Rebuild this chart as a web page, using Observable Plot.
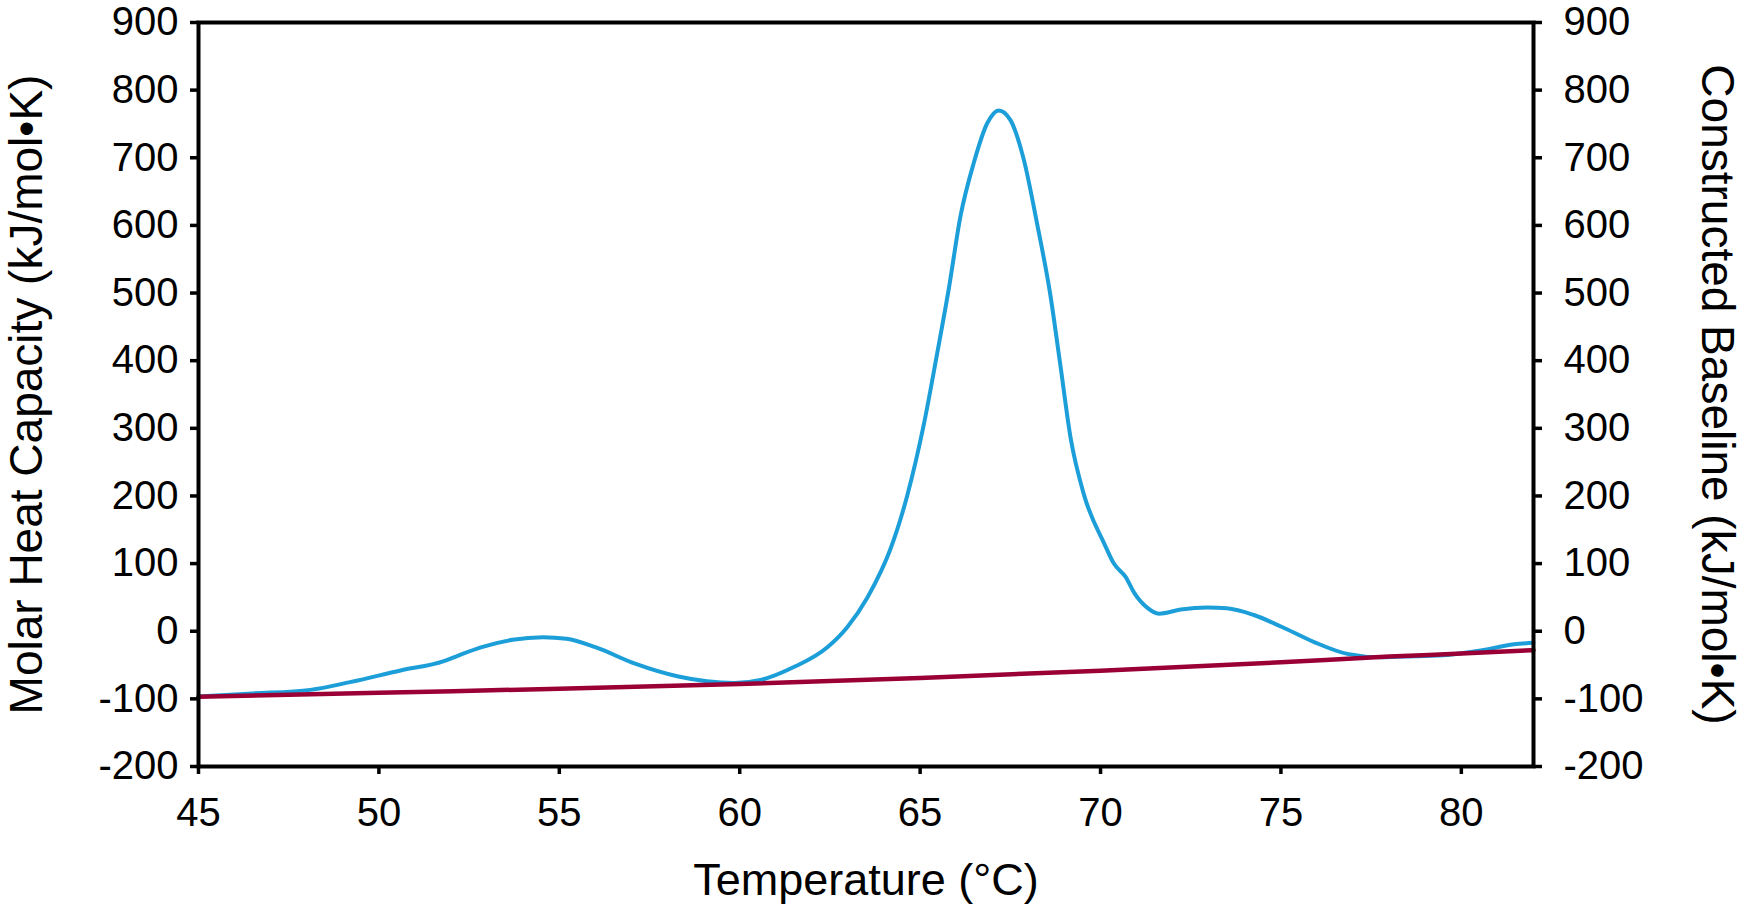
<!DOCTYPE html>
<html>
<head>
<meta charset="utf-8">
<script src="https://cdn.jsdelivr.net/npm/d3@7"></script>
<script src="https://cdn.jsdelivr.net/npm/@observablehq/plot@0.6"></script>
<style>
  html, body { margin: 0; padding: 0; background: #ffffff; overflow: hidden; }
  #chart svg { display: block; }
</style>
</head>
<body>
<div id="chart"></div>
<script>
// Molar heat capacity curve (blue)
const cpTemp = [45.0, 46.5, 48.1, 49.2, 50.6, 51.8, 52.2, 52.85, 53.7, 54.55, 55.2, 56.0, 57.1, 58.3, 59.85, 60.58, 61.5, 62.43, 62.98, 63.54, 63.91, 64.18, 64.64, 65.1, 65.47, 65.8, 66.12, 66.49, 66.86, 67.18, 67.5, 67.87, 68.24, 68.61, 68.89, 69.17, 69.54, 70.1, 70.37, 70.7, 70.93, 71.3, 71.62, 72.22, 72.96, 73.5, 74.25, 75.0, 75.92, 76.84, 77.76, 78.69, 79.61, 80.54, 81.46, 82.0];
const cpValue = [-96.5, -92, -86.7, -75.3, -58, -44.3, -36, -23.6, -12.7, -8.8, -11.2, -23.6, -48, -67, -76.5, -72, -53, -23.6, 6, 50, 88, 122, 200, 305, 410, 508, 614, 693, 751, 770, 756, 698, 603, 497, 392, 286, 202, 130, 100, 80, 57, 34.5, 26, 32, 35, 34, 24, 7, -16, -33.5, -38.5, -37, -35, -28.5, -19.4, -17];

// Constructed baseline (dark red)
const baseTemp = [45, 50, 55, 60, 65, 70, 75, 78, 80, 82];
const baseValue = [-97, -91, -85, -78, -69, -58.5, -46, -37.5, -33, -28];

// Axes
const xTicks = [45, 50, 55, 60, 65, 70, 75, 80];
const yTicks = [-200, -100, 0, 100, 200, 300, 400, 500, 600, 700, 800, 900];
const xTitle = "Temperature (°C)";
const yTitleLeft = "Molar Heat Capacity (kJ/mol•K)";
const yTitleRight = "Constructed Baseline (kJ/mol•K)";

const cpData = cpTemp.map((t, i) => ({t, v: cpValue[i]}));
const baseData = baseTemp.map((t, i) => ({t, v: baseValue[i]}));

const chart = Plot.plot({
  width: 1743,
  height: 912,
  marginLeft: 198,
  marginRight: 210,
  marginTop: 22,
  marginBottom: 146,
  style: {fontFamily: "'Liberation Sans', Arial, sans-serif", background: "#ffffff", color: "#000000"},
  x: {domain: [45, 82]},
  y: {domain: [-200, 900]},
  marks: [
    Plot.line(cpData, {x: "t", y: "v", stroke: "#1c9ed9", strokeWidth: 4, curve: "monotone-x"}),
    Plot.line(baseData, {x: "t", y: "v", stroke: "#9a0036", strokeWidth: 4.5, curve: "monotone-x"}),
    Plot.frame({stroke: "#000000", strokeWidth: 4}),
    Plot.axisY({anchor: "left", ticks: yTicks, tickSize: 8, tickPadding: 12, fontSize: 40, strokeWidth: 3.5, tickFormat: d => String(d), label: null}),
    Plot.axisY({anchor: "right", ticks: yTicks, tickSize: 8, tickPadding: 22, fontSize: 40, strokeWidth: 3.5, tickFormat: d => String(d), label: null}),
    Plot.axisX({anchor: "bottom", ticks: xTicks, tickSize: 8, tickPadding: 23, fontSize: 40, strokeWidth: 3.5, tickFormat: d => String(d), label: null}),
    Plot.text([yTitleLeft], {text: d => d, frameAnchor: "left", dx: -171, rotate: -90, fontSize: 46, textAnchor: "middle", lineAnchor: "middle"}),
    Plot.text([yTitleRight], {text: d => d, frameAnchor: "right", dx: 183, rotate: 90, fontSize: 46, textAnchor: "middle", lineAnchor: "middle"}),
    Plot.text([xTitle], {text: d => d, frameAnchor: "bottom", dy: 114, fontSize: 45, textAnchor: "middle", lineAnchor: "middle"})
  ]
});
document.getElementById("chart").appendChild(chart);
</script>
</body>
</html>
